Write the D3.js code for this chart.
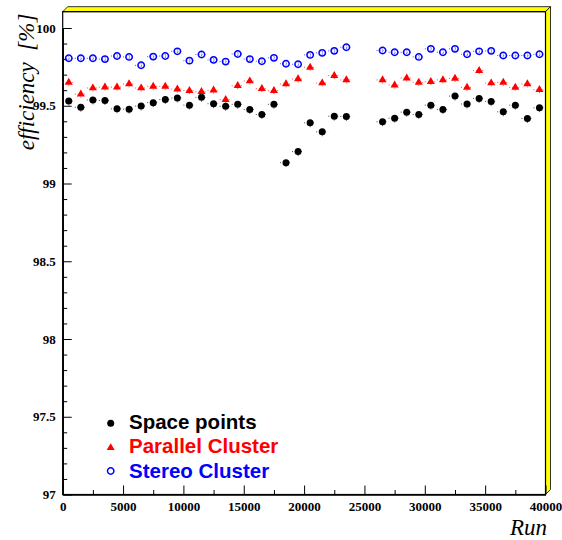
<!DOCTYPE html>
<html>
<head>
<meta charset="utf-8">
<script src="https://cdn.jsdelivr.net/npm/d3@7"></script>
<style>
  html, body { margin: 0; padding: 0; background: #fff; }
  svg { display: block; }
  text { font-variant-ligatures: none; }
</style>
</head>
<body>
<svg id="chart" width="562" height="540"></svg>
<script>
// ---------- data ----------
const runs = [500, 1500, 2500, 3500, 4500, 5500, 6500, 7500, 8500, 9500,
  10500, 11500, 12500, 13500, 14500, 15500, 16500, 17500, 18500, 19500,
  20500, 21500, 22500, 23500,
  26500, 27500, 28500, 29500, 30500, 31500, 32500, 33500, 34500, 35500,
  36500, 37500, 38500, 39500];

const spacePoints = [99.53, 99.49, 99.537, 99.534, 99.48, 99.478, 99.498, 99.52, 99.54, 99.55,
  99.504, 99.554, 99.513, 99.496, 99.509, 99.476, 99.444, 99.509, 99.134, 99.205,
  99.39, 99.332, 99.433, 99.431,
  99.397, 99.42, 99.459, 99.444, 99.504, 99.476, 99.562, 99.511, 99.547, 99.528,
  99.461, 99.504, 99.418, 99.487];

const parallelCluster = [99.65, 99.575, 99.614, 99.62, 99.62, 99.64, 99.614, 99.625, 99.625, 99.607,
  99.597, 99.59, 99.60, 99.539, 99.629, 99.659, 99.61, 99.597, 99.64, 99.672,
  99.747, 99.646, 99.694, 99.666,
  99.666, 99.633, 99.678, 99.65, 99.655, 99.666, 99.676, 99.618, 99.726, 99.646,
  99.65, 99.618, 99.64, 99.603];

const stereoCluster = [99.805, 99.805, 99.805, 99.80, 99.82, 99.814, 99.76, 99.816, 99.82, 99.85,
  99.79, 99.83, 99.795, 99.784, 99.833, 99.80, 99.786, 99.808, 99.77, 99.767,
  99.827, 99.84, 99.853, 99.876,
  99.855, 99.844, 99.844, 99.814, 99.866, 99.844, 99.866, 99.831, 99.85, 99.853,
  99.823, 99.823, 99.823, 99.831];

const errSpace = 0.028, errParallel = 0.022, errStereo = 0.012;
const binHalfWidth = 500;

const xMajorTicks = [0, 5000, 10000, 15000, 20000, 25000, 30000, 35000, 40000];
const xMinorTicks = [2500, 7500, 12500, 17500, 22500, 27500, 32500, 37500];
const yMajorTicks = [97, 97.5, 98, 98.5, 99, 99.5, 100];
const yMinorTicks = [97.1, 97.2, 97.3, 97.4, 97.6, 97.7, 97.8, 97.9, 98.1, 98.2, 98.3, 98.4,
  98.6, 98.7, 98.8, 98.9, 99.1, 99.2, 99.3, 99.4, 99.6, 99.7, 99.8, 99.9];

const legendLabels = ["Space points", "Parallel Cluster", "Stereo Cluster"];

// ---------- layout ----------
const svg = d3.select("#chart");
const plotLeft = 62.7, plotRight = 545.5, plotBottom = 494.5;
const yTopValue = 100.105;
const x = d3.scaleLinear().domain([0, 40000]).range([plotLeft, plotRight]);
const y = d3.scaleLinear().domain([97, 100]).range([plotBottom, 28]);
const plotTop = y(yTopValue);
const bevel = 5;

svg.append("rect").attr("x", 0).attr("y", 0).attr("width", 562).attr("height", 540).attr("fill", "#fff");

// yellow bevel (top and right)
svg.append("polygon")
  .attr("points", [[plotLeft, plotTop], [plotLeft + bevel, plotTop - bevel], [plotRight + bevel, plotTop - bevel], [plotRight, plotTop]].join(" "))
  .attr("fill", "#ffff00").attr("stroke", "#000").attr("stroke-width", 0.8).attr("stroke-linejoin", "round");
svg.append("polygon")
  .attr("points", [[plotRight, plotTop], [plotRight + bevel, plotTop - bevel], [plotRight + bevel, plotBottom - bevel], [plotRight, plotBottom]].join(" "))
  .attr("fill", "#ffff00").attr("stroke", "#000").attr("stroke-width", 0.8).attr("stroke-linejoin", "round");

// plot frame
svg.append("rect").attr("x", plotLeft).attr("y", plotTop).attr("width", plotRight - plotLeft).attr("height", plotBottom - plotTop)
  .attr("fill", "none").attr("stroke", "#000").attr("stroke-width", 1.2);

// axes
const tickFont = "'Liberation Serif', 'Times New Roman', serif";

svg.append("g").attr("transform", `translate(0,${plotBottom})`)
  .call(d3.axisBottom(x).tickValues(xMajorTicks).tickSize(-9).tickSizeOuter(0).tickPadding(7).tickFormat(d3.format("d")));
svg.append("g").attr("transform", `translate(0,${plotBottom})`)
  .call(d3.axisBottom(x).tickValues(xMinorTicks).tickSize(-4.5).tickSizeOuter(0).tickFormat(""));

svg.append("g").attr("transform", `translate(${plotLeft},0)`)
  .call(d3.axisLeft(y).tickValues(yMajorTicks).tickSize(-9).tickSizeOuter(0).tickPadding(7).tickFormat(d => String(d)));
svg.append("g").attr("transform", `translate(${plotLeft},0)`)
  .call(d3.axisLeft(y).tickValues(yMinorTicks).tickSize(-4.5).tickSizeOuter(0).tickFormat(""));

svg.selectAll(".domain").attr("stroke", "#000").attr("stroke-width", 1.2);
svg.selectAll(".tick line").attr("stroke", "#000").attr("stroke-width", 1);
svg.selectAll(".tick text").attr("font-family", tickFont).attr("font-weight", "bold")
  .attr("font-size", 13).attr("fill", "#000");

// axis titles
svg.append("text")
  .attr("transform", `translate(34,82) rotate(-90)`)
  .attr("text-anchor", "middle")
  .attr("font-family", tickFont).attr("font-style", "italic").attr("font-size", 23)
  .style("white-space", "pre")
  .text("efficiency  [%]");

svg.append("text")
  .attr("x", 547).attr("y", 535)
  .attr("text-anchor", "end")
  .attr("font-family", tickFont).attr("font-style", "italic").attr("font-size", 23)
  .text("Run");

// ---------- series ----------
const series = [
  { values: spacePoints, color: "#000000", err: errSpace, kind: "dot" },
  { values: parallelCluster, color: "#ff0000", err: errParallel, kind: "tri" },
  { values: stereoCluster, color: "#0000ff", err: errStereo, kind: "ring" }
];

const triPath = d3.symbol().type(d3.symbolTriangle).size(28)();

function drawMarker(g, kind, color) {
  if (kind === "dot") {
    g.append("circle").attr("r", 3.5).attr("fill", color);
  } else if (kind === "tri") {
    g.append("path").attr("d", triPath).attr("fill", color);
  } else {
    g.append("circle").attr("r", 3.2).attr("fill", "none").attr("stroke", color).attr("stroke-width", 1.5);
  }
}

series.forEach(s => {
  const data = runs.map((r, i) => ({ run: r, v: s.values[i] }));
  const eg = svg.append("g").attr("stroke", s.color).attr("stroke-width", 1).attr("stroke-opacity", 0.7)
    .attr("stroke-dasharray", "1,2");
  eg.selectAll("line.h").data(data).join("line").attr("class", "h")
    .attr("x1", d => x(d.run - binHalfWidth)).attr("x2", d => x(d.run + binHalfWidth))
    .attr("y1", d => y(d.v)).attr("y2", d => y(d.v));
  eg.selectAll("line.v").data(data).join("line").attr("class", "v")
    .attr("x1", d => x(d.run)).attr("x2", d => x(d.run))
    .attr("y1", d => y(d.v - s.err)).attr("y2", d => y(d.v + s.err));

  const mg = svg.append("g");
  data.forEach(d => {
    const g = mg.append("g").attr("transform", `translate(${x(d.run)},${y(d.v)})`);
    drawMarker(g, s.kind, s.color);
  });
});

// ---------- legend ----------
const legendFont = "'Liberation Sans', Arial, Helvetica, sans-serif";
const legendBaselines = [429.3, 453.3, 477.7];
const legendMarkerY = [423.3, 447.8, 471];
series.forEach((s, i) => {
  const g = svg.append("g").attr("transform", `translate(110.7,${legendMarkerY[i]})`);
  drawMarker(g, s.kind, s.color);
  svg.append("text").attr("x", 129).attr("y", legendBaselines[i])
    .attr("font-family", legendFont).attr("font-weight", "bold").attr("font-size", 20.5)
    .attr("fill", s.color).text(legendLabels[i]);
});
</script>
</body>
</html>
